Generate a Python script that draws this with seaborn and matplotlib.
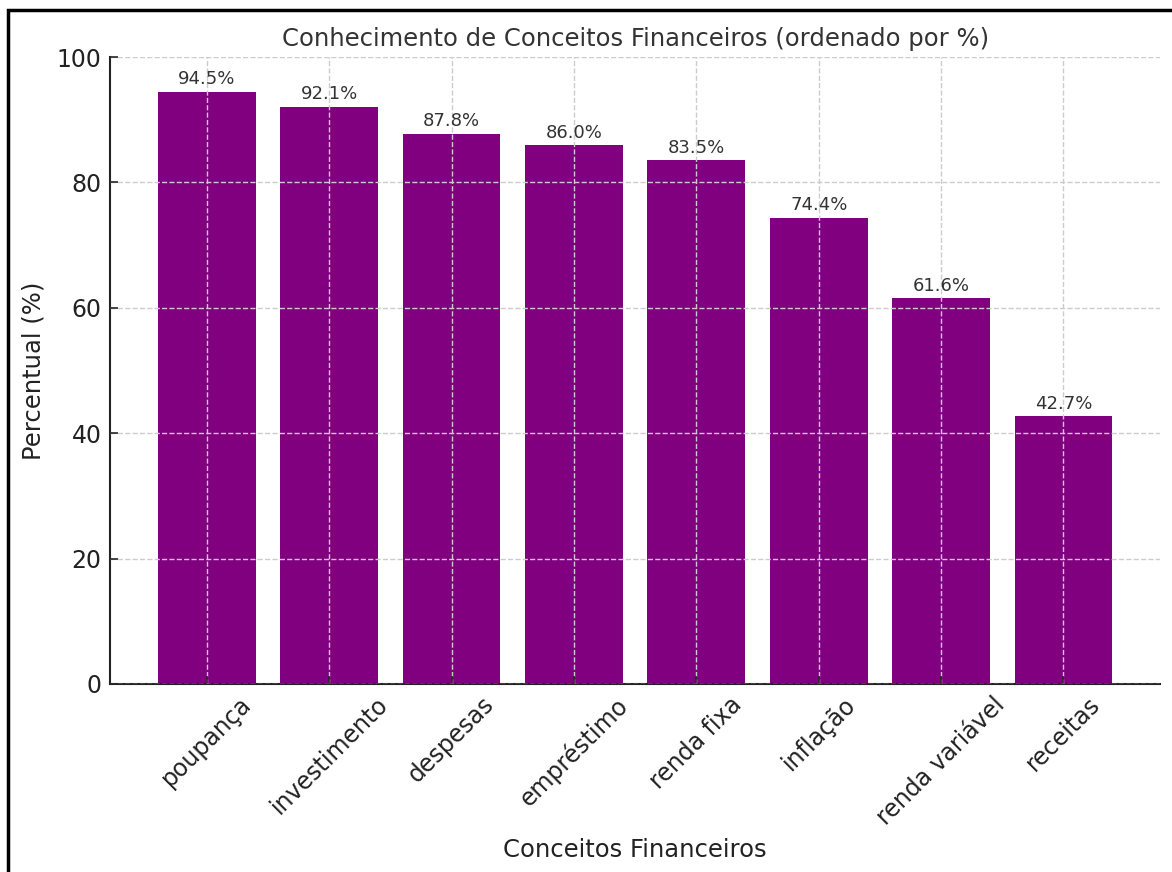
import matplotlib
matplotlib.use('Agg')
import matplotlib.pyplot as plt
import seaborn as sns
import pandas as pd
from matplotlib.patches import Rectangle

'''Dados'''
conceitos = ['poupança', 'investimento', 'despesas', 'empréstimo',
             'renda fixa', 'inflação', 'renda variável', 'receitas']
percentuais = [94.5, 92.1, 87.8, 86.0, 83.5, 74.4, 61.6, 42.7]

df = pd.DataFrame({'Conceito': conceitos, 'Percentual': percentuais})

'''Figura e estilo'''
sns.set_style('ticks')
plt.rcParams['font.family'] = ['DejaVu Sans']
fig = plt.figure(figsize=(11.72, 8.72), dpi=100)
ax = fig.add_axes([0.0939, 0.2156, 0.896, 0.719])

sns.barplot(data=df, x='Conceito', y='Percentual', color='#800080',
            saturation=1, width=0.8, linewidth=0, ax=ax)
ax.set_xlim(-0.79, len(conceitos) - 0.21)
ax.set_ylim(0, 100)
ax.set_axisbelow(False)
ax.grid(True, linestyle='--', color='#cccccc', linewidth=1)
sns.despine(ax=ax)
for s in ['left', 'bottom']:
    ax.spines[s].set_linewidth(1.5)
    ax.spines[s].set_color('#222222')

for i, v in enumerate(percentuais):
    ax.text(i, v + 0.5, f'{v:.1f}%', ha='center', va='bottom',
            fontsize=13, color='#333333')

ax.set_title('Conhecimento de Conceitos Financeiros (ordenado por %)',
             fontsize=17.5, color='#333333', pad=8)
ax.set_xlabel('Conceitos Financeiros', fontsize=17.5, color='#222222', labelpad=6)
ax.set_ylabel('Percentual (%)', fontsize=17.5, color='#222222', labelpad=8)
plt.xticks(rotation=45, ha='center', fontsize=17, color='#222222')
plt.yticks([0, 20, 40, 60, 80, 100], fontsize=17, color='#222222')
ax.tick_params(axis='both', direction='in', length=6, width=1.2, pad=6)

# moldura da figura
fig.patches.append(Rectangle((0.0068, -0.2), 1.5, 1.1885, fill=False,
                             edgecolor='black', linewidth=2.5,
                             transform=fig.transFigure, figure=fig))

fig.savefig('out.png', dpi=100)
